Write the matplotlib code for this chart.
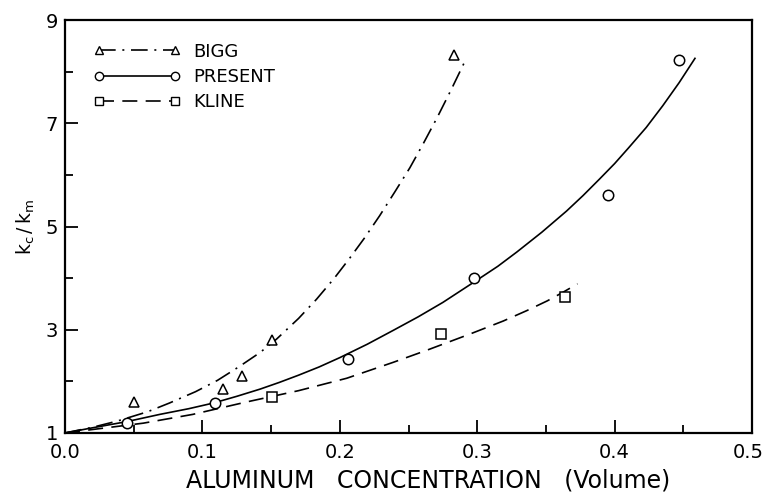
import matplotlib
matplotlib.use("Agg")
import matplotlib.pyplot as plt
import matplotlib.transforms as mtransforms
from matplotlib.ticker import MultipleLocator, FixedLocator

# Measured data points
bigg_x = [0.050, 0.115, 0.129, 0.151, 0.283]
bigg_y = [1.60, 1.85, 2.11, 2.80, 8.33]
present_x = [0.045, 0.109, 0.206, 0.298, 0.395, 0.447]
present_y = [1.19, 1.58, 2.44, 4.01, 5.62, 8.22]
kline_x = [0.151, 0.274, 0.364]
kline_y = [1.70, 2.92, 3.64]

# Fitted curves
bigg_cx = [0.0, 0.020, 0.038, 0.060, 0.076, 0.095, 0.111, 0.127, 0.142, 0.154, 0.170, 0.183,
           0.196, 0.207, 0.218, 0.229, 0.240, 0.251, 0.261, 0.271, 0.281, 0.291]
bigg_cy = [1.0, 1.11, 1.23, 1.41, 1.58, 1.80, 2.02, 2.29, 2.56, 2.82, 3.22, 3.59,
           4.00, 4.38, 4.78, 5.21, 5.67, 6.14, 6.62, 7.12, 7.65, 8.20]
present_cx = [0.0, 0.020, 0.045, 0.069, 0.090, 0.108, 0.125, 0.142, 0.156, 0.170, 0.185,
              0.200, 0.220, 0.239, 0.257, 0.275, 0.298, 0.315, 0.329, 0.347, 0.365, 0.377,
              0.389, 0.400, 0.410, 0.423, 0.435, 0.447, 0.4585]
present_cy = [1.0, 1.10, 1.22, 1.36, 1.47, 1.58, 1.71, 1.85, 1.98, 2.12, 2.28,
              2.46, 2.72, 2.99, 3.25, 3.53, 3.93, 4.23, 4.51, 4.89, 5.30, 5.60,
              5.92, 6.22, 6.52, 6.92, 7.34, 7.79, 8.26]
kline_cx = [0.0, 0.030, 0.057, 0.093, 0.132, 0.170, 0.205, 0.239, 0.263, 0.295, 0.319,
            0.336, 0.351, 0.362, 0.373]
kline_cy = [1.0, 1.10, 1.19, 1.36, 1.60, 1.82, 2.06, 2.37, 2.60, 2.92, 3.17,
            3.37, 3.56, 3.72, 3.89]

x_ticks = [0.0, 0.1, 0.2, 0.3, 0.4, 0.5]
x_labels = ["0.0", "0.1", "0.2", "0.3", "0.4", "0.5"]
y_ticks = [1, 3, 5, 7, 9]
y_labels = ["1", "3", "5", "7", "9"]

plt.rcParams['font.family'] = ['DejaVu Sans']
fig = plt.figure(figsize=(7.65, 4.92), dpi=100)
ax = fig.add_axes([0.085, 0.12, 0.898, 0.839])

lw = 1.2
mk = dict(markerfacecolor='white', markeredgecolor='black', markeredgewidth=1.1,
          markersize=7.5, color='black')

ax.plot(bigg_cx, bigg_cy, color='black', lw=lw, dashes=(10, 4, 1.2, 4))
ax.plot(present_cx, present_cy, color='black', lw=lw, linestyle='-')
ax.plot(kline_cx, kline_cy, color='black', lw=lw, dashes=(9, 5))

ax.plot(bigg_x, bigg_y, linestyle='none', marker='^', **mk)
ax.plot(present_x, present_y, linestyle='none', marker='o', **mk)
ax.plot(kline_x, kline_y, linestyle='none', marker='s', **mk)

# legend proxies
h1, = ax.plot([], [], color='black', lw=lw, dashes=(10, 4, 1.2, 4), marker='^',
              markerfacecolor='white', markeredgecolor='black', markersize=6)
h2, = ax.plot([], [], color='black', lw=lw, linestyle='-', marker='o',
              markerfacecolor='white', markeredgecolor='black', markersize=6)
h3, = ax.plot([], [], color='black', lw=lw, dashes=(9, 5), marker='s',
              markerfacecolor='white', markeredgecolor='black', markersize=6)
leg = ax.legend([h1, h2, h3], ["BIGG", "PRESENT", "KLINE"], loc='upper left',
                numpoints=2, handlelength=4.8, frameon=False, fontsize=13,
                bbox_to_anchor=(0.018, 0.985), labelspacing=0.4, handletextpad=0.7)

ax.set_xlim(0, 0.5)
ax.set_ylim(1, 9)
ax.xaxis.set_major_locator(FixedLocator(x_ticks))
ax.set_xticklabels(x_labels)
ax.xaxis.set_minor_locator(MultipleLocator(0.05))
ax.yaxis.set_major_locator(FixedLocator(y_ticks))
ax.set_yticklabels(y_labels)
ax.yaxis.set_minor_locator(MultipleLocator(1))
ax.tick_params(which='both', direction='in', top=False, right=False, width=1.3,
               labelsize=14)
ax.tick_params(axis='x', pad=7)
ax.tick_params(axis='y', pad=5)
ax.tick_params(which='major', length=9.5)
ax.tick_params(which='minor', length=6)
for s in ax.spines.values():
    s.set_linewidth(1.6)

# nudge the last x tick label so it stays inside the figure
last = ax.get_xticklabels()[-1]
last.set_transform(last.get_transform() +
                   mtransforms.ScaledTranslation(-4 / 100, 0, fig.dpi_scale_trans))

ax.set_xlabel("ALUMINUM   CONCENTRATION   (Volume)", fontsize=17)
ax.xaxis.set_label_coords(0.528, -0.085)
ax.set_ylabel(r"$\mathregular{k_c\,/\,k_m}$", fontsize=13.5)
ax.yaxis.set_label_coords(-0.041, 0.5)

fig.savefig("out.png", dpi=100)
